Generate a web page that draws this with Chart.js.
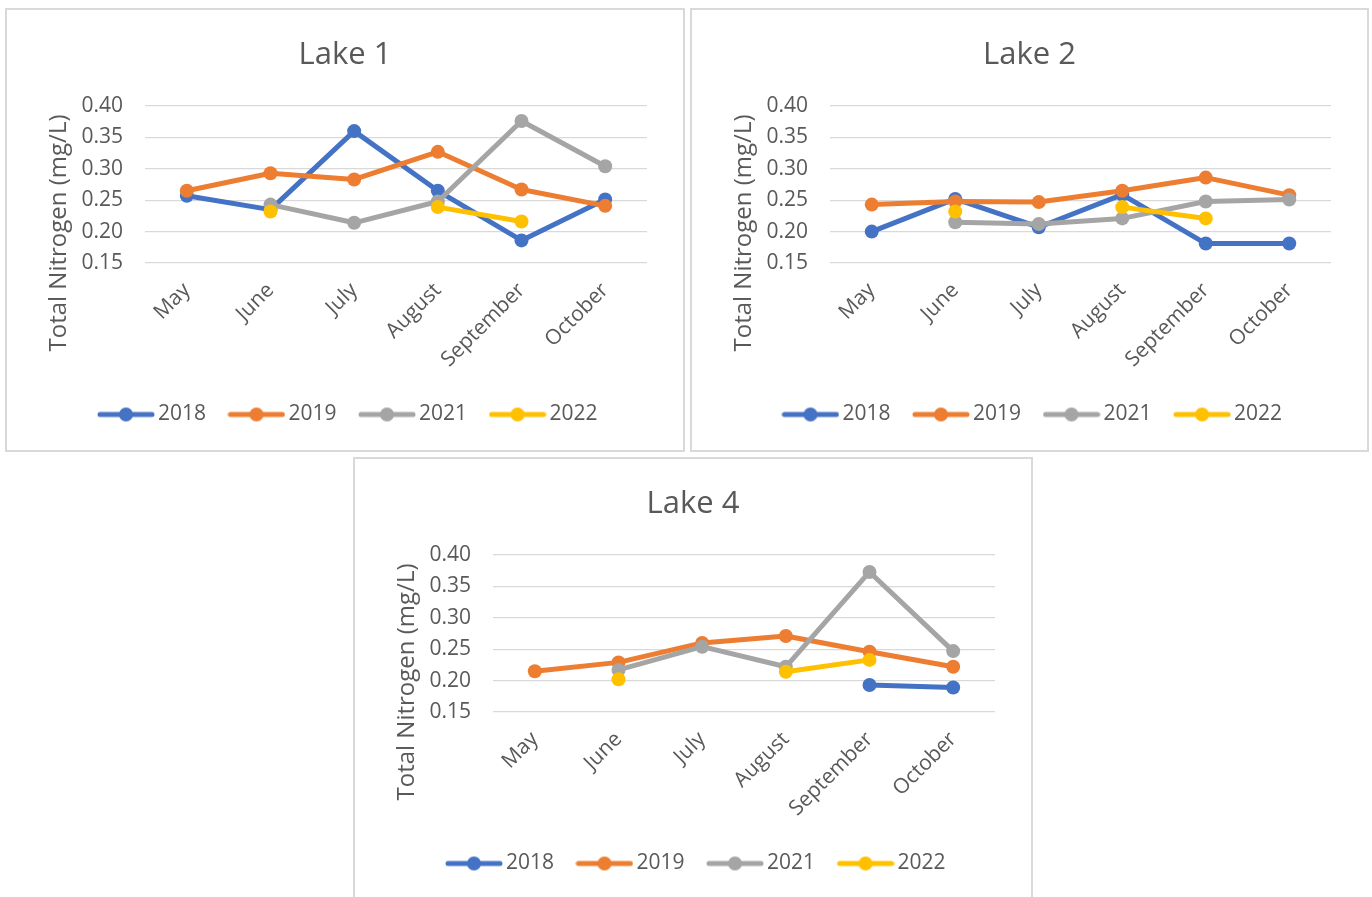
<!DOCTYPE html>
<html>
<head>
<meta charset="utf-8">
<script src="https://cdn.jsdelivr.net/npm/chart.js@4.4.0/dist/chart.umd.min.js"></script>
<style>
  body { margin: 0; background: #fff; width: 1372px; height: 897px; overflow: hidden; position: relative; }
  .panel { position: absolute; box-sizing: border-box; border: 2px solid #d9d9d9; background: #fff; }
  .panel canvas { display: block; }
</style>
</head>
<body>
<div class="panel" style="left:5px;top:8px;width:680px;height:444px"><canvas id="lake1" width="676" height="440"></canvas></div>
<div class="panel" style="left:690px;top:8px;width:679px;height:444px"><canvas id="lake2" width="675" height="440"></canvas></div>
<div class="panel" style="left:353px;top:457px;width:680px;height:444px"><canvas id="lake4" width="676" height="440"></canvas></div>
<script>
const months = ['May', 'June', 'July', 'August', 'September', 'October'];
const years = ['2018', '2019', '2021', '2022'];
const colors = ['#4472C4', '#ED7D31', '#A5A5A5', '#FFC000'];
const yTicks = [0.15, 0.20, 0.25, 0.30, 0.35, 0.40];

// Lake 1
const lake1_2018 = [0.257, 0.235, 0.360, 0.265, 0.186, 0.251];
const lake1_2019 = [0.265, 0.293, 0.283, 0.327, 0.267, 0.241];
const lake1_2021 = [null, 0.243, 0.214, 0.248, 0.376, 0.304];
const lake1_2022 = [null, 0.232, null, 0.239, 0.216, null];

// Lake 2
const lake2_2018 = [0.200, 0.252, 0.207, 0.259, 0.181, 0.181];
const lake2_2019 = [0.243, 0.248, 0.247, 0.265, 0.286, 0.258];
const lake2_2021 = [null, 0.215, 0.212, 0.221, 0.248, 0.251];
const lake2_2022 = [null, 0.232, null, 0.239, 0.221, null];

// Lake 4
const lake4_2018 = [null, null, null, null, 0.193, 0.189];
const lake4_2019 = [0.215, 0.229, 0.260, 0.271, 0.246, 0.222];
const lake4_2021 = [null, 0.217, 0.254, 0.222, 0.373, 0.247];
const lake4_2022 = [null, 0.202, null, 0.214, 0.233, null];

const textColor = '#595959';
const font = 'Open Sans';

// line-with-dot icon used in the legend
function legendIcon(color) {
  const c = document.createElement('canvas');
  c.width = 58;
  c.height = 16;
  const g = c.getContext('2d');
  g.strokeStyle = color;
  g.lineWidth = 5;
  g.lineCap = 'round';
  g.beginPath();
  g.moveTo(3, 8);
  g.lineTo(55, 8);
  g.stroke();
  g.fillStyle = color;
  g.beginPath();
  g.arc(29, 8, 7, 0, Math.PI * 2);
  g.fill();
  return c;
}

const yTitle = {
  id: 'yTitle',
  afterDraw(chart, args, opts) {
    const ctx = chart.ctx;
    const area = chart.chartArea;
    ctx.save();
    ctx.translate(opts.left, area.bottom + opts.below);
    ctx.rotate(-Math.PI / 2);
    ctx.font = '24px "' + font + '"';
    ctx.fillStyle = textColor;
    ctx.textAlign = 'center';
    ctx.textBaseline = 'middle';
    ctx.fillText(opts.text, 0, 0);
    ctx.restore();
  }
};

// nudge the legend a little to the right, as in the original
const legendShift = {
  id: 'legendShift',
  afterLayout(chart) {
    chart.legend.left += 6;
    chart.legend.right += 6;
  }
};

function makeChart(id, title, series) {
  const icons = colors.map(legendIcon);
  new Chart(document.getElementById(id), {
    type: 'line',
    data: {
      labels: months,
      datasets: series.map((vals, i) => ({
        label: years[i],
        data: vals,
        borderColor: colors[i],
        backgroundColor: colors[i],
        borderWidth: 5,
        borderCapStyle: 'round',
        borderJoinStyle: 'round',
        pointRadius: 7,
        pointHoverRadius: 7,
        pointBorderWidth: 0,
        spanGaps: false,
        order: series.length - i
      }))
    },
    options: {
      responsive: false,
      animation: false,
      layout: { padding: { left: 0, right: 0, top: 0, bottom: 15 } },
      plugins: {
        tooltip: { enabled: false },
        title: {
          display: true,
          text: title,
          color: textColor,
          font: { family: font, size: 31, weight: 'normal' },
          padding: { top: 26.4, bottom: 32.4 }
        },
        legend: {
          position: 'bottom',
          labels: {
            color: textColor,
            font: { family: font, size: 21 },
            usePointStyle: true,
            pointStyleWidth: 43,
            boxHeight: 21,
            padding: 29,
            sort: (a, b) => a.datasetIndex - b.datasetIndex,
            generateLabels(chart) {
              const items = Chart.defaults.plugins.legend.labels.generateLabels(chart);
              items.forEach(it => { it.pointStyle = icons[it.datasetIndex]; });
              return items;
            }
          }
        },
        yTitle: { text: 'Total Nitrogen (mg/L)', left: 52, below: -30 }
      },
      scales: {
        x: {
          offset: true,
          grid: { display: false, drawTicks: false, offset: true },
          border: { display: false },
          ticks: {
            color: textColor,
            font: { family: font, size: 21 },
            minRotation: 45,
            maxRotation: 45,
            padding: 15,
            labelOffset: 0
          },
          afterFit(s) { s.height = 112; }
        },
        y: {
          min: 0.15,
          max: 0.40,
          afterBuildTicks(s) { s.ticks = yTicks.map(v => ({ value: v })); },
          grid: { color: '#d9d9d9', lineWidth: 1.3, drawTicks: false },
          border: { display: false },
          ticks: {
            color: textColor,
            font: { family: font, size: 21 },
            padding: 22,
            callback: v => v.toFixed(2)
          },
          afterFit(s) { s.width = 138; }
        },
        pad: {
          position: 'right',
          display: true,
          grid: { display: false, drawTicks: false },
          border: { display: false },
          ticks: { display: false },
          afterFit(s) { s.width = 36; }
        }
      }
    },
    plugins: [yTitle, legendShift]
  });
}

document.fonts.load('21px "Open Sans"').then(() => {
  makeChart('lake1', 'Lake 1', [lake1_2018, lake1_2019, lake1_2021, lake1_2022]);
  makeChart('lake2', 'Lake 2', [lake2_2018, lake2_2019, lake2_2021, lake2_2022]);
  makeChart('lake4', 'Lake 4', [lake4_2018, lake4_2019, lake4_2021, lake4_2022]);
});
</script>
</body>
</html>
